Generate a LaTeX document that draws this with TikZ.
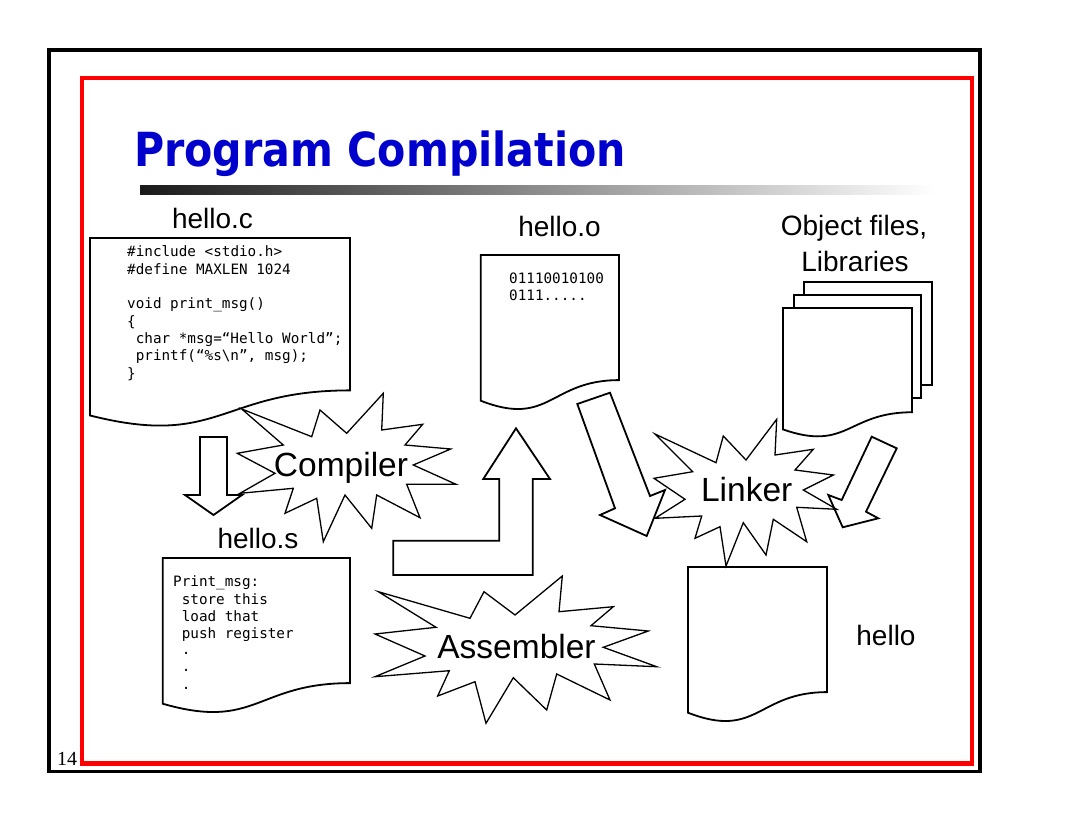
\documentclass[tikz,border=0pt]{standalone}
\usepackage{fontspec}
\usepackage{graphicx}
\setmainfont{Liberation Sans}
\newfontfamily\titlefont{DejaVu Sans}
\newfontfamily\codefont{DejaVu Sans Mono}
\newfontfamily\pagefont{Liberation Serif}
\definecolor{titleblue}{RGB}{0,0,204}
\definecolor{framered}{RGB}{255,0,0}

% document symbol with a wavy lower edge: name, x, y, width, height
\newcommand\docshape[5]{%
  \coordinate (#1) at ({#2+0.5*#4},{#3+0.5*#5});
  \draw[docline] (#2,#3) -- ({#2+#4},#3) -- ({#2+#4},{#3+0.802*#5})
    .. controls ({#2+0.5*#4},{#3+0.802*#5}) and ({#2+0.5*#4},{#3+1.1075*#5})
    .. (#2,{#3+0.934*#5}) -- cycle;}

\begin{document}
\begin{tikzpicture}[x=1pt,y=-1pt,
  docline/.style={draw=black,line width=1.8pt,fill=white,line join=miter},
  pageline/.style={draw=black,line width=1.8pt,fill=white},
  blockarrow/.style={draw=black,line width=1.8pt,line join=miter},
  burst/.style={draw=black,line width=1.3pt,line join=miter},
  lbl/.style={inner sep=0pt,anchor=base,font=\fontsize{28}{34}\selectfont},
  bursttxt/.style={inner sep=0pt,anchor=base,font=\fontsize{33.5}{40}\selectfont},
  codetxt/.style={inner sep=0pt,anchor=base west,font=\codefont\fontsize{14.3}{17.3}\selectfont}]
\useasboundingbox (0,0) rectangle (1074,832);
\fill[white] (0,0) rectangle (1074,832);

% slide frames
\draw[black,line width=3.8pt] (49,50) rectangle (980,771.5);
\draw[framered,line width=4.2pt] (82,78) rectangle (972,763.5);
\node[anchor=base west,inner sep=0pt,font=\pagefont\fontsize{20}{24}\selectfont] (pagenum) at (57,765) {14};

% title and rule
\node[anchor=base west,inner sep=0pt,text=titleblue] (title) at (134,167)
  {\scalebox{0.876}[1]{\titlefont\bfseries\fontsize{47}{56}\selectfont Program Compilation}};
\shade[left color=black!90,middle color=black!25,right color=white] (140,186) rectangle (935,194);

% source file
\docshape{srcdoc}{90}{238}{260}{190}
\node[lbl] (srclbl) at (212.5,228.3) {hello.c};
\node[codetxt] (c1) at (127,256.7) {\#include <stdio.h>};
\node[codetxt] (c2) at (127,274) {\#define MAXLEN 1024};
\node[codetxt] (c3) at (127,308.6) {void print\_msg()};
\node[codetxt] (c4) at (127,326) {\{};
\node[codetxt] (c5) at (135.6,343.3) {char *msg=“Hello World”;};
\node[codetxt] (c6) at (135.6,360.6) {printf(“\%s\textbackslash n”, msg);};
\node[codetxt] (c7) at (127,378) {\}};

% object file
\docshape{objdoc}{480.7}{255}{138.3}{156}
\node[lbl] (objlbl) at (559.5,236.7) {hello.o};
\node[codetxt] (o1) at (509,283.3) {01110010100};
\node[codetxt] (o2) at (509,300.6) {0111.....};

% assembly file
\docshape{asmdoc}{162.7}{558}{187.3}{156}
\node[lbl] (asmlbl) at (258,548.3) {hello.s};
\node[codetxt] (s1) at (173,586.7) {Print\_msg:};
\node[codetxt] (s2) at (181.6,604) {store this};
\node[codetxt] (s3) at (181.6,621.3) {load that};
\node[codetxt] (s4) at (181.6,638.6) {push register};
\node[codetxt] (s5) at (181.6,654) {.};
\node[codetxt] (s6) at (181.6,671.5) {.};
\node[codetxt] (s7) at (181.6,689) {.};

% libraries: a stack of pages
\draw[pageline] (804,282) rectangle (932,385);
\draw[pageline] (794,295) rectangle (921,398);
\docshape{libdoc}{783}{308}{129}{130}
\node[lbl] (liblbl1) at (854,235.5) {Object files,};
\node[lbl] (liblbl2) at (855,271) {Libraries};

% executable
\docshape{exedoc}{688}{567}{139}{156}
\node[lbl] (exelbl) at (886,645) {hello};

% block arrows
\draw[blockarrow] (200,437) -- (227,437) -- (227,495) -- (242,495) -- (213.5,515)
  -- (185,495) -- (200,495) -- cycle;
\draw[blockarrow] (393.3,540.7) -- (499.3,540.7) -- (499.3,479) -- (483.3,479)
  -- (516,428.3) -- (550,479) -- (532.7,479) -- (532.7,575) -- (393.3,575) -- cycle;
\draw[blockarrow] (577.3,404) -- (610,392.7) -- (650,496) -- (665,490) -- (646.7,536)
  -- (600,515) -- (615,508.3) -- cycle;
\draw[blockarrow] (871.7,436.7) -- (896.7,448.3) -- (866,511.7) -- (878.3,518.3)
  -- (842.7,527.3) -- (828.3,495) -- (841.7,500) -- cycle;

% compiler burst
\draw[burst] (241.7,409) -- (311.7,436.7) -- (320,410) -- (346.7,433.3) -- (383.3,393.3)
  -- (381.7,430) -- (422.7,424.3) -- (405,445) -- (450.7,449) -- (413.3,465)
  -- (456,484.3) -- (406.7,484.3) -- (420,517.7) -- (376.7,495) -- (371.7,528.3)
  -- (345,495) -- (323.3,541.7) -- (316.7,498.3) -- (285,513.3) -- (293.3,488.3)
  -- (240,493.3) -- (275,473.3) -- (237.3,453.3) -- (283.3,445) -- cycle;
\node[bursttxt] (compiler) at (341,476.7) {Compiler};

% assembler burst
\draw[burst] (378.3,591.7) -- (470,618.3) -- (484,591.7) -- (515,615) -- (562.3,576)
  -- (559,611.7) -- (613.3,606.7) -- (591,625.7) -- (648.3,631) -- (603.3,647.3)
  -- (656.7,666.7) -- (594.3,664) -- (610,700) -- (556.7,674) -- (546.7,710)
  -- (513.3,677.7) -- (486,723.3) -- (475,681.7) -- (437.7,696) -- (449.3,670.7)
  -- (375,676.7) -- (425,656) -- (375,634) -- (436,627.3) -- cycle;
\node[bursttxt] (assembler) at (516.5,658.3) {Assembler};

% linker burst
\draw[burst] (655,434) -- (716,462.7) -- (723.3,436) -- (746,460) -- (776.7,419.3)
  -- (775,455) -- (813.3,449.3) -- (795,470) -- (833.3,475) -- (803.3,490)
  -- (836.7,509.3) -- (796.7,507.3) -- (806.7,541.7) -- (773.3,519.3) -- (766,555)
  -- (743.3,522.7) -- (726,566) -- (720,526.7) -- (695,538.3) -- (701.7,516)
  -- (655,518.3) -- (685,499.3) -- (654,478.3) -- (692.7,471.7) -- cycle;
\node[bursttxt] (linker) at (746.7,501.7) {Linker};
\end{tikzpicture}
\end{document}
